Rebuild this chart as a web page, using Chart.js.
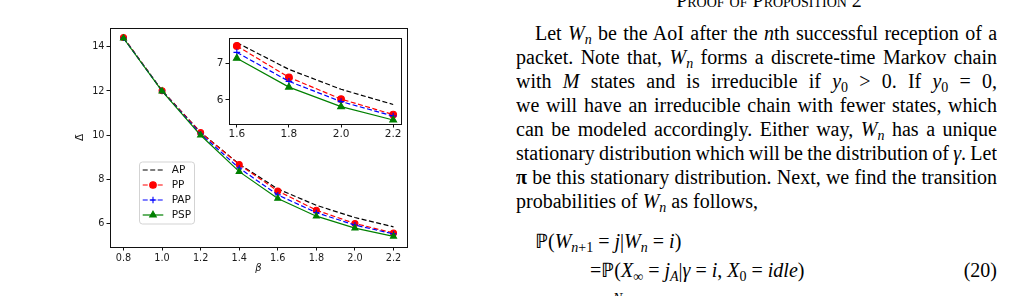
<!DOCTYPE html>
<html><head><meta charset="utf-8">
<script src="https://cdn.jsdelivr.net/npm/chart.js@4.4.0/dist/chart.umd.min.js"></script>
<style>
html,body{margin:0;padding:0;background:#fff;width:1026px;height:296px;overflow:hidden;position:relative}
#main{position:absolute;left:55px;top:20px}
#inset{position:absolute;left:205px;top:30px}
.t{position:absolute;font-family:"Liberation Serif","Times New Roman",serif;font-size:20px;line-height:24px;color:#000;white-space:nowrap;margin:0}
.j{left:516px;width:481px;text-align:justify;text-align-last:justify;white-space:normal;height:24px;overflow:hidden;word-spacing:-2px}
.s{font-size:14px;vertical-align:-4px;line-height:0}
.sc{font-variant:small-caps}
</style>
</head><body>
<canvas id="main" width="360" height="276"></canvas>
<canvas id="inset" width="202" height="112"></canvas>

<div class="t sc" style="left:600px;width:338px;text-align:center;top:-12px">Proof of Proposition 2</div>
<div class="t j" style="top:21px;text-indent:19px">Let <i>W</i><span class="s"><i>n</i></span> be the AoI after the <i>n</i>th successful reception of a</div>
<div class="t j" style="top:45px">packet. Note that, <i>W</i><span class="s"><i>n</i></span> forms a discrete-time Markov chain</div>
<div class="t j" style="top:69px">with <i>M</i> states and is irreducible if <i>y</i><span class="s">0</span> &gt; 0. If <i>y</i><span class="s">0</span> = 0,</div>
<div class="t j" style="top:93px">we will have an irreducible chain with fewer states, which</div>
<div class="t j" style="top:117px">can be modeled accordingly. Either way, <i>W</i><span class="s"><i>n</i></span> has a unique</div>
<div class="t j" style="top:141px;word-spacing:-4px">stationary distribution which will be the distribution of <i>γ</i>. Let</div>
<div class="t j" style="top:165px"><b>π</b> be this stationary distribution. Next, we find the transition</div>
<div class="t" style="left:516px;top:189px">probabilities of <i>W</i><span class="s"><i>n</i></span> as follows,</div>
<div class="t" style="left:535px;top:229px">ℙ(<i>W</i><span class="s"><i>n</i>+1</span> = <i>j</i>|<i>W</i><span class="s"><i>n</i></span> = <i>i</i>)</div>
<div class="t" style="left:590px;top:258px">=ℙ(<i>X</i><span class="s">∞</span> = <i>j</i><span class="s"><i>A</i></span>|<i>γ</i> = <i>i</i>, <i>X</i><span class="s">0</span> = <i>idle</i>)</div>
<div class="t" style="left:940px;width:57px;text-align:right;top:258px">(20)</div>
<div class="t" style="left:613px;top:287px;font-size:14px"><i>N</i></div>

<script>
// ---- data ----
const beta = [0.8, 1.0, 1.2, 1.4, 1.6, 1.8, 2.0, 2.2];
const apVals  = [14.41, 12.02, 10.13, 8.70, 7.58, 6.84, 6.29, 5.87];
const ppVals  = [14.41, 12.01, 10.12, 8.68, 7.49, 6.62, 6.02, 5.59];
const papVals = [14.39, 12.00, 10.06, 8.52, 7.31, 6.51, 5.95, 5.55];
const pspVals = [14.38, 11.99, 10.00, 8.36, 7.15, 6.35, 5.81, 5.44];
const seriesNames = ['AP', 'PP', 'PAP', 'PSP'];
const xTicksMain = [0.8, 1.0, 1.2, 1.4, 1.6, 1.8, 2.0, 2.2];
const yTicksMain = [6, 8, 10, 12, 14];
const xTicksInset = [1.6, 1.8, 2.0, 2.2];
const yTicksInset = [6, 7];
const insetStart = 4; // inset shows beta >= 1.6

Chart.defaults.font.family = '"DejaVu Sans", sans-serif';
Chart.defaults.color = '#1a1a1a';

const styles = [
  {color:'#000000', dash:[5,2.5], pointStyle:false, r:0},
  {color:'#ff0000', dash:[5,2.5], pointStyle:'circle', r:3},
  {color:'#0000ff', dash:[5,2.5], pointStyle:'cross', r:3},
  {color:'#008000', dash:[], pointStyle:'triangle', r:3.5}
];
const allVals = [apVals, ppVals, papVals, pspVals];

function makeDatasets(start, rScale){
  return allVals.map((vals, i) => {
    const st = styles[i];
    return {
      label: seriesNames[i],
      data: beta.slice(start).map((b, k) => ({x: b, y: vals[start + k]})),
      borderColor: st.color,
      backgroundColor: st.color,
      borderWidth: 1.2,
      borderDash: st.dash,
      pointStyle: st.pointStyle || 'circle',
      pointRadius: st.r * rScale,
      pointBackgroundColor: st.color,
      pointBorderColor: st.color,
      pointBorderWidth: 1.1,
      tension: 0,
      fill: false,
      order: 4 - i
    };
  });
}

const framePlugin = {
  id: 'frame',
  beforeDraw(chart, args, opts){
    if (opts && opts.bg) {
      const a = chart.chartArea, ctx = chart.ctx;
      ctx.save(); ctx.fillStyle = '#fff';
      ctx.fillRect(a.left, a.top, a.right - a.left, a.bottom - a.top);
      ctx.restore();
    }
  },
  afterDatasetsDraw(chart){
    const a = chart.chartArea, ctx = chart.ctx;
    ctx.save();
    ctx.strokeStyle = '#111'; ctx.lineWidth = 1;
    ctx.strokeRect(Math.round(a.left) + 0.5, Math.round(a.top) + 0.5,
                   Math.round(a.right - a.left), Math.round(a.bottom - a.top));
    ctx.restore();
  }
};

const legendPlugin = {
  id: 'mplLegend',
  afterDraw(chart){
    const ctx = chart.ctx;
    const bx = 84.5, by = 142, bw = 55, bh = 62;
    ctx.save();
    ctx.beginPath();
    if (ctx.roundRect) ctx.roundRect(bx, by, bw, bh, 3); else ctx.rect(bx, by, bw, bh);
    ctx.fillStyle = 'rgba(255,255,255,0.8)'; ctx.fill();
    ctx.strokeStyle = '#d3d3d3'; ctx.lineWidth = 1; ctx.stroke();
    chart.data.datasets.forEach((ds, i) => {
      const y = 150 + i * 15;
      ctx.strokeStyle = ds.borderColor; ctx.lineWidth = ds.borderWidth;
      ctx.setLineDash(ds.borderDash || []);
      ctx.beginPath(); ctx.moveTo(87.7, y); ctx.lineTo(108.3, y); ctx.stroke();
      ctx.setLineDash([]);
      if (ds.pointRadius > 0) {
        ctx.fillStyle = ds.pointBackgroundColor; ctx.strokeStyle = ds.pointBorderColor;
        ctx.lineWidth = ds.pointBorderWidth;
        Chart.helpers.drawPoint(ctx, {pointStyle: ds.pointStyle, radius: ds.pointRadius + 0.3, rotation: 0, borderWidth: ds.pointBorderWidth}, 98, y);
      }
      ctx.fillStyle = '#111'; ctx.font = '10.5px "DejaVu Sans"'; ctx.textBaseline = 'middle'; ctx.textAlign = 'left';
      ctx.fillText(ds.label, 116.7, y);
    });
    ctx.restore();
  }
};

function axisCommon(ticksArr, fmt, fontSize, pad){
  return {
    type: 'linear',
    afterBuildTicks: s => { s.ticks = ticksArr.map(v => ({value: v})); },
    ticks: { callback: fmt, font: {size: fontSize}, padding: pad, color: '#1a1a1a', maxRotation: 0, autoSkip: false },
    grid: { display: true, drawOnChartArea: false, drawTicks: true, tickLength: 3.5, color: '#111', lineWidth: 1 },
    border: { display: false }
  };
}

new Chart(document.getElementById('main'), {
  type: 'line',
  data: { datasets: makeDatasets(0, 1) },
  options: {
    responsive: false, animation: false, events: [],
    layout: { padding: {left: 0, top: 5, right: 8, bottom: 0} },
    plugins: { legend: {display: false}, tooltip: {enabled: false}, frame: {bg: false} },
    scales: {
      x: Object.assign(axisCommon(xTicksMain, v => v.toFixed(1), 9.7, 2), {
        min: 0.73, max: 2.27,
        afterFit: s => { s.height = 49; },
        title: { display: true, text: 'β', font: {size: 10, style: 'italic'}, padding: {top: 0, bottom: 21.7}, color: '#1a1a1a' }
      }),
      y: Object.assign(axisCommon(yTicksMain, v => String(v), 9.7, 2), {
        min: 4.96, max: 14.85,
        afterFit: s => { s.width = 55; },
        title: { display: true, text: 'Δ̄', font: {size: 10.5}, padding: {top: 19, bottom: 0}, color: '#1a1a1a' }
      })
    }
  },
  plugins: [framePlugin, legendPlugin]
});

new Chart(document.getElementById('inset'), {
  type: 'line',
  data: { datasets: makeDatasets(insetStart, 1.12) },
  options: {
    responsive: false, animation: false, events: [],
    layout: { padding: {left: 0, top: 6, right: 6, bottom: 0} },
    plugins: { legend: {display: false}, tooltip: {enabled: false}, frame: {bg: true} },
    scales: {
      x: Object.assign(axisCommon(xTicksInset, v => v.toFixed(1), 10.5, 0), {
        min: 1.57, max: 2.23,
        afterFit: s => { s.height = 18; }
      }),
      y: Object.assign(axisCommon(yTicksInset, v => String(v), 10.5, 2), {
        min: 5.33, max: 7.70,
        afterFit: s => { s.width = 24; }
      })
    }
  },
  plugins: [framePlugin]
});
</script>
</body></html>
